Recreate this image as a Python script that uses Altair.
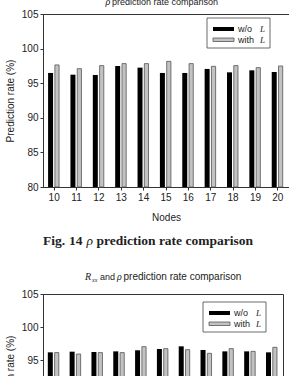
import altair as alt
import pandas as pd

# Node counts on the x axis
nodes = ["10", "11", "12", "13", "14", "15", "16", "17", "18", "19", "20"]

# rho prediction rate (%), without and with L
rho_without = [96.48, 96.23, 96.19, 97.49, 97.25, 96.48, 96.48, 97.06, 96.57, 96.86, 96.62]
rho_with = [97.64, 97.10, 97.54, 97.83, 97.83, 98.16, 97.83, 97.44, 97.54, 97.25, 97.49]

# R_xx and rho prediction rate (%), without and with L
rxx_without = [96.16, 96.26, 96.21, 96.31, 96.47, 96.67, 97.07, 96.52, 96.31, 96.31, 96.16]
rxx_with = [96.12, 95.91, 96.12, 96.12, 97.02, 96.72, 96.57, 96.01, 96.72, 96.31, 96.92]

y_ticks = [80, 85, 90, 95, 100, 105]

SANS = "Liberation Sans"
SERIF = "Liberation Serif"
INK = "#222222"
GRAY_FILL = "#c2c2c2"
GRAY_EDGE = "#555555"

one = pd.DataFrame({"k": [0]})


def label(text, x, y, size=9, font=SANS, style="normal", weight="normal", align="left"):
    return alt.Chart(one).mark_text(
        text=text, font=font, fontSize=size, fontStyle=style, fontWeight=weight,
        align=align, baseline="alphabetic", color=INK,
    ).encode(x=alt.value(x), y=alt.value(y))


def legend(x0, y0):
    """Boxed legend with a black and a gray swatch; x0, y0 = box top-left."""
    box = alt.Chart(one).mark_rect(fill="white", stroke="#444", strokeWidth=0.8).encode(
        x=alt.value(x0), x2=alt.value(x0 + 63), y=alt.value(y0), y2=alt.value(y0 + 30)
    )
    sw1 = alt.Chart(one).mark_rect(fill="black").encode(
        x=alt.value(x0 + 6), x2=alt.value(x0 + 27), y=alt.value(y0 + 9), y2=alt.value(y0 + 13)
    )
    sw2 = alt.Chart(one).mark_rect(fill=GRAY_FILL, stroke=GRAY_EDGE, strokeWidth=0.8).encode(
        x=alt.value(x0 + 6), x2=alt.value(x0 + 27), y=alt.value(y0 + 20), y2=alt.value(y0 + 23.5)
    )
    return [
        box, sw1, sw2,
        label("w/o", x0 + 31, y0 + 14, size=9),
        label("L", x0 + 53, y0 + 14, size=9, font=SERIF, style="italic"),
        label("with", x0 + 31, y0 + 25, size=9),
        label("L", x0 + 53, y0 + 25, size=9, font=SERIF, style="italic"),
    ]


def bars(without, with_, width, height):
    df = pd.DataFrame({"node": nodes, "without": without, "with": with_})
    xaxis = alt.Axis(
        title="Nodes", labelAngle=0, tickSize=3, labelPadding=2, titlePadding=10,
        labelFont=SANS, labelFontSize=10, labelColor=INK,
        titleFont=SANS, titleFontSize=10, titleFontWeight="normal", titleColor=INK,
        domainColor="#333", tickColor="#333",
    )
    xscale = alt.Scale(paddingInner=0, paddingOuter=0)
    yscale = alt.Scale(domain=[80, 105], nice=False, zero=False)
    yaxis = alt.Axis(
        values=y_ticks, tickSize=3, labelPadding=2, grid=False, labelOverlap=False,
        labelFont=SANS, labelFontSize=10, labelColor=INK,
        title="Prediction rate (%)", titleFont=SANS, titleFontSize=10,
        titleFontWeight="normal", titleColor=INK,
        titleX=-33, titleY=height / 2, titleAlign="center", titleBaseline="middle",
        domainColor="#333", tickColor="#333",
    )
    black = alt.Chart(df).mark_bar(color="black", width=5, xOffset=-3.6).encode(
        x=alt.X("node:O", sort=nodes, scale=xscale, axis=xaxis),
        y=alt.Y("without:Q", scale=yscale, axis=yaxis),
        y2=alt.datum(80),
    )
    gray = alt.Chart(df).mark_bar(
        fill=GRAY_FILL, stroke=GRAY_EDGE, strokeWidth=0.8, width=4.2, xOffset=2.8
    ).encode(
        x=alt.X("node:O", sort=nodes, scale=xscale, axis=xaxis),
        y=alt.Y("with:Q", scale=yscale, axis=yaxis),
        y2=alt.datum(80),
    )
    return [black, gray]


# Upper panel: rho prediction rate, with the figure caption underneath
top_layers = bars(rho_without, rho_with, 246, 173)
top_layers += [
    label("\u03c1", 65, -9.5, size=10, font=SERIF, style="italic", align="center"),
    label("prediction rate comparison", 69, -9.5, size=9),
]
top_layers += legend(164, 4)
top_layers += [
    label("Fig.", 0, 231, size=13.5, font=SERIF, weight="bold"),
    label("14", 26, 231, size=13.5, font=SERIF, weight="bold"),
    label("\u03c1", 43.5, 231, size=13.5, font=SERIF, style="italic"),
    label("prediction rate comparison", 53.5, 231, size=13.5, font=SERIF, weight="bold"),
]
top = alt.layer(*top_layers).properties(width=246, height=173)

# Lower panel: R_xx and rho prediction rate
low_layers = bars(rxx_without, rxx_with, 240, 165)
low_layers += [
    label("R", 42, -14, size=10, font=SERIF, style="italic"),
    label("xx", 49, -12, size=6, font=SERIF, style="italic"),
    label("and", 57, -14, size=9),
    label("\u03c1", 76.5, -14, size=10, font=SERIF, style="italic", align="center"),
    label("prediction rate comparison", 80.5, -14, size=10),
]
low_layers += legend(160, 8)
low = alt.layer(*low_layers).properties(width=240, height=165)

# With autosize "none" the canvas is padding + (empty) root size, so the
# padding alone sets the 289 x 376 page and the plot origin.
chart = (
    alt.vconcat(top, low, spacing=107, bounds="flush")
    .properties(
        padding={"left": 43, "top": 14, "right": 246, "bottom": 362},
        autosize=alt.AutoSizeParams(type="none"),
        background="white",
    )
    .configure_view(stroke="#333", strokeWidth=1)
)

chart.save("out.html", embed_options={"renderer": "svg", "actions": False})
